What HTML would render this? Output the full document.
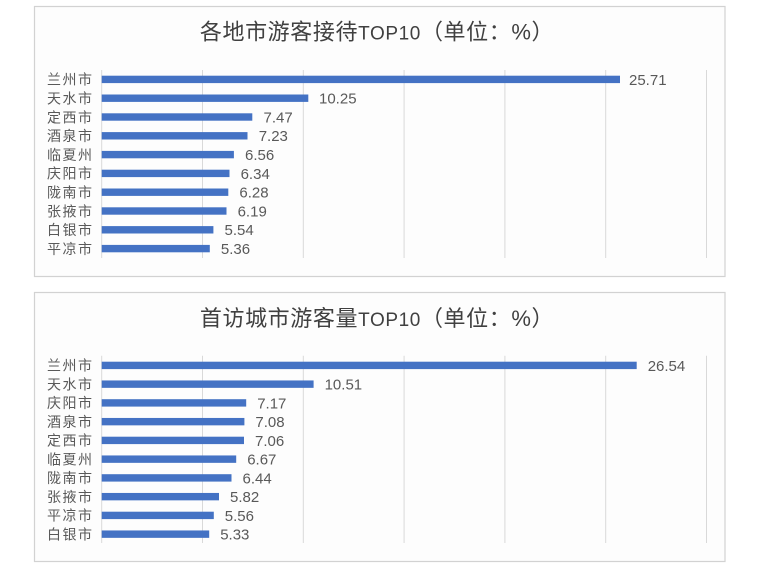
<!DOCTYPE html>
<html>
<head>
<meta charset="utf-8">
<style>
html,body{margin:0;padding:0;background:#ffffff;}
svg{display:block;}
.t{font-family:"Liberation Sans","Noto Sans CJK SC",sans-serif;font-size:22px;fill:#404040;letter-spacing:0.6px;}
.c{font-family:"Liberation Sans","Noto Sans CJK SC",sans-serif;font-size:14px;fill:#595959;letter-spacing:1.5px;}
.v{font-family:"Liberation Sans","Noto Sans CJK SC",sans-serif;font-size:15px;fill:#595959;}
</style>
</head>
<body>
<svg width="771" height="578" viewBox="0 0 771 578" xmlns="http://www.w3.org/2000/svg">
<rect x="0" y="0" width="771" height="578" fill="#ffffff"/>

<!-- Top panel -->
<rect x="34.5" y="6.5" width="690.5" height="270" fill="#fdfdfd" stroke="#d2d2d2" stroke-width="1.2"/>
<text class="t" x="377" y="39.5" text-anchor="middle">各地市游客接待<tspan font-size="19">TOP10</tspan>（单位：%）</text>
<g stroke="#d9d9d9" stroke-width="1">
<line x1="101.7" y1="70" x2="101.7" y2="258"/>
<line x1="202.5" y1="70" x2="202.5" y2="258"/>
<line x1="303.3" y1="70" x2="303.3" y2="258"/>
<line x1="404.1" y1="70" x2="404.1" y2="258"/>
<line x1="504.9" y1="70" x2="504.9" y2="258"/>
<line x1="605.7" y1="70" x2="605.7" y2="258"/>
<line x1="706.5" y1="70" x2="706.5" y2="258"/>
</g>
<g fill="#4472C4">
<rect x="101.7" y="75.7" width="518.3" height="7.4"/>
<rect x="101.7" y="94.5" width="206.6" height="7.4"/>
<rect x="101.7" y="113.3" width="150.6" height="7.4"/>
<rect x="101.7" y="132.1" width="145.8" height="7.4"/>
<rect x="101.7" y="150.9" width="132.2" height="7.4"/>
<rect x="101.7" y="169.7" width="127.8" height="7.4"/>
<rect x="101.7" y="188.5" width="126.6" height="7.4"/>
<rect x="101.7" y="207.3" width="124.8" height="7.4"/>
<rect x="101.7" y="226.1" width="111.7" height="7.4"/>
<rect x="101.7" y="244.9" width="108.1" height="7.4"/>
</g>
<g>
<text class="c" x="47" y="84.7">兰州市</text>
<text class="c" x="47" y="103.5">天水市</text>
<text class="c" x="47" y="122.3">定西市</text>
<text class="c" x="47" y="141.1">酒泉市</text>
<text class="c" x="47" y="159.9">临夏州</text>
<text class="c" x="47" y="178.7">庆阳市</text>
<text class="c" x="47" y="197.5">陇南市</text>
<text class="c" x="47" y="216.3">张掖市</text>
<text class="c" x="47" y="235.1">白银市</text>
<text class="c" x="47" y="253.9">平凉市</text>
</g>
<g>
<text class="v" x="629" y="84.8" font-size="14" fill="#6a6a6a">25.71</text>
<text class="v" x="319" y="103.6">10.25</text>
<text class="v" x="263.5" y="122.4">7.47</text>
<text class="v" x="258.7" y="141.2">7.23</text>
<text class="v" x="245" y="160">6.56</text>
<text class="v" x="240.6" y="178.8">6.34</text>
<text class="v" x="239.4" y="197.6">6.28</text>
<text class="v" x="237.6" y="216.4">6.19</text>
<text class="v" x="224.5" y="235.2">5.54</text>
<text class="v" x="220.9" y="254">5.36</text>
</g>

<!-- Bottom panel -->
<rect x="34.5" y="292.5" width="690.5" height="269" fill="#fdfdfd" stroke="#d2d2d2" stroke-width="1.2"/>
<text class="t" x="377" y="326" text-anchor="middle">首访城市游客量<tspan font-size="19">TOP10</tspan>（单位：%）</text>
<g stroke="#d9d9d9" stroke-width="1">
<line x1="101.7" y1="355.7" x2="101.7" y2="543"/>
<line x1="202.5" y1="355.7" x2="202.5" y2="543"/>
<line x1="303.3" y1="355.7" x2="303.3" y2="543"/>
<line x1="404.1" y1="355.7" x2="404.1" y2="543"/>
<line x1="504.9" y1="355.7" x2="504.9" y2="543"/>
<line x1="605.7" y1="355.7" x2="605.7" y2="543"/>
<line x1="706.5" y1="355.7" x2="706.5" y2="543"/>
</g>
<g fill="#4472C4">
<rect x="101.7" y="361.7" width="535.0" height="7.4"/>
<rect x="101.7" y="380.45" width="211.9" height="7.4"/>
<rect x="101.7" y="399.2" width="144.5" height="7.4"/>
<rect x="101.7" y="417.95" width="142.7" height="7.4"/>
<rect x="101.7" y="436.7" width="142.3" height="7.4"/>
<rect x="101.7" y="455.45" width="134.5" height="7.4"/>
<rect x="101.7" y="474.2" width="129.8" height="7.4"/>
<rect x="101.7" y="492.95" width="117.3" height="7.4"/>
<rect x="101.7" y="511.7" width="112.1" height="7.4"/>
<rect x="101.7" y="530.45" width="107.5" height="7.4"/>
</g>
<g>
<text class="c" x="47" y="370.7">兰州市</text>
<text class="c" x="47" y="389.45">天水市</text>
<text class="c" x="47" y="408.2">庆阳市</text>
<text class="c" x="47" y="426.95">酒泉市</text>
<text class="c" x="47" y="445.7">定西市</text>
<text class="c" x="47" y="464.45">临夏州</text>
<text class="c" x="47" y="483.2">陇南市</text>
<text class="c" x="47" y="501.95">张掖市</text>
<text class="c" x="47" y="520.7">平凉市</text>
<text class="c" x="47" y="539.45">白银市</text>
</g>
<g>
<text class="v" x="647.7" y="370.8" font-size="14" fill="#6a6a6a">26.54</text>
<text class="v" x="324.6" y="389.55">10.51</text>
<text class="v" x="257.2" y="408.3">7.17</text>
<text class="v" x="255.4" y="427.05">7.08</text>
<text class="v" x="255" y="445.8">7.06</text>
<text class="v" x="247.2" y="464.55">6.67</text>
<text class="v" x="242.5" y="483.3">6.44</text>
<text class="v" x="230" y="502.05">5.82</text>
<text class="v" x="224.8" y="520.8">5.56</text>
<text class="v" x="220.2" y="539.55">5.33</text>
</g>
</svg>
</body>
</html>
